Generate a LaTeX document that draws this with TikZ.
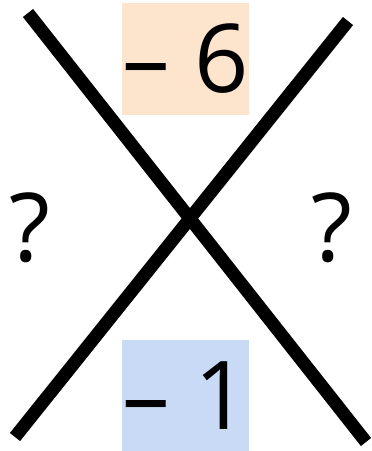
\documentclass[tikz,border=0pt]{standalone}
\usepackage{fontspec}
\setmainfont{Open Sans}
\definecolor{boxpeach}{RGB}{252,228,205}
\definecolor{boxblue}{RGB}{200,218,246}
\tikzset{
  crossline/.style={
    line width=13pt,
    line cap=butt
  },
  numbox/.style={
    rectangle,
    inner sep=0pt,
    minimum width=125pt,
    font=\fontsize{95}{100}\selectfont
  },
  qmark/.style={
    inner sep=0pt,
    font=\fontsize{95}{100}\selectfont
  }
}

\begin{document}
\begin{tikzpicture}[x=1pt,y=1pt]
  \useasboundingbox (0,0) rectangle (372,-451);
  \coordinate (tl) at (28,-13);
  \coordinate (br) at (366,-442);
  \coordinate (tr) at (348,-21);
  \coordinate (bl) at (15,-437);
  \draw[crossline] (tl) -- (br);
  \draw[crossline] (tr) -- (bl);
  \node[numbox, fill=boxpeach, minimum height=112pt] (top) at (185.5,-59) {– 6};
  \node[numbox, fill=boxblue, minimum height=111pt] (bottom) at (185.5,-395.5) {– 1};
  \node[qmark] (left) at (30,-227.5) {?};
  \node[qmark] (right) at (331.5,-227.5) {?};
\end{tikzpicture}
\end{document}
